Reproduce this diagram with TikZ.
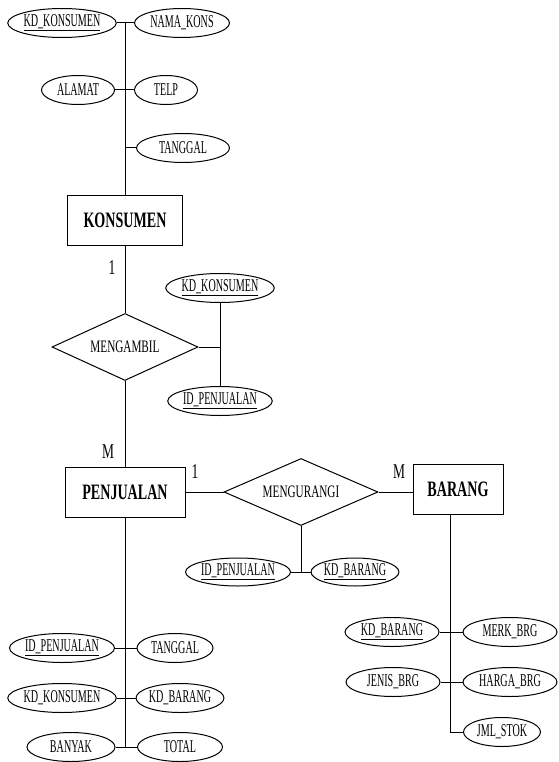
\documentclass[tikz,border=0pt]{standalone}
\usepackage{fontspec}
\setmainfont{Liberation Serif}
\newfontfamily\attrf[FakeStretch=0.56]{Liberation Serif}
\newfontfamily\entf[FakeStretch=0.64]{Liberation Serif}
\newfontfamily\relf[FakeStretch=0.64]{Liberation Serif}
\usetikzlibrary{shapes.geometric}
\tikzset{
  attr/.style={draw, ellipse, line width=1pt, inner sep=0pt, minimum height=29pt,
    font=\attrf\fontsize{18}{20}\selectfont},
  entity/.style={draw, rectangle, line width=1pt, inner sep=0pt, minimum height=50pt,
    font=\entf\bfseries\fontsize{22}{24}\selectfont},
  rel/.style={draw, diamond, aspect=2.2, line width=1pt, inner sep=0pt,
    font=\relf\fontsize{17.5}{20}\selectfont},
  card/.style={inner sep=0pt, font=\entf\fontsize{21}{23}\selectfont},
  conn/.style={line width=1pt}
}
\begin{document}
\begin{tikzpicture}[x=1pt,y=-1pt]
\useasboundingbox (0,0) rectangle (558,762);
% KONSUMEN attributes
\node[attr, minimum width=105pt] (k1) at (62,23) {\underline{KD\_KONSUMEN}};
\node[attr, minimum width=95pt] (k2) at (182,23) {NAMA\_KONS};
\node[attr, minimum width=73pt] (k3) at (78,90) {ALAMAT};
\node[attr, minimum width=63pt] (k4) at (166,90) {TELP};
\node[attr, minimum width=93pt] (k5) at (183,148) {TANGGAL};
\node[entity, minimum width=115pt] (kons) at (125,220) {KONSUMEN};
\coordinate (ktop) at (125,23);
% MENGAMBIL
\node[rel, minimum width=146pt, minimum height=67pt] (mengambil) at (125,347) {MENGAMBIL};
\node[attr, minimum width=106pt] (a1) at (220,288) {\underline{KD\_KONSUMEN}};
\node[attr, minimum width=97pt] (a2) at (220,401) {\underline{ID\_PENJUALAN}};
% PENJUALAN
\node[entity, minimum width=120pt] (penj) at (125,492) {PENJUALAN};
\node[rel, minimum width=154pt, minimum height=67pt] (mengurangi) at (301,492) {MENGURANGI};
\node[entity, minimum width=90pt] (barang) at (458,489) {BARANG};
\node[attr, minimum width=105pt, minimum height=28pt] (r1) at (238,572) {\underline{ID\_PENJUALAN}};
\node[attr, minimum width=83pt, minimum height=28pt] (r2) at (355,572) {\underline{KD\_BARANG}};
% PENJUALAN attributes
\node[attr, minimum width=105pt] (p1) at (62,648) {\underline{ID\_PENJUALAN}};
\node[attr, minimum width=76pt] (p2) at (175,648) {TANGGAL};
\node[attr, minimum width=105pt] (p3) at (62,698) {KD\_KONSUMEN};
\node[attr, minimum width=84pt] (p4) at (180,698) {KD\_BARANG};
\node[attr, minimum width=88pt] (p5) at (71,747) {BANYAK};
\node[attr, minimum width=85pt] (p6) at (180,747) {TOTAL};
% BARANG attributes
\node[attr, minimum width=94pt] (b1) at (392,632) {\underline{KD\_BARANG}};
\node[attr, minimum width=94pt] (b2) at (510,632) {MERK\_BRG};
\node[attr, minimum width=94pt] (b3) at (393,682) {JENIS\_BRG};
\node[attr, minimum width=94pt] (b4) at (510,682) {HARGA\_BRG};
\node[attr, minimum width=77pt] (b5) at (502,732) {JML\_STOK};
\coordinate (bs) at (450,514);
\coordinate (bc) at (450,732);
% cardinalities
\node[card] (c1) at (112,268) {1};
\node[card] (c2) at (108,452) {M};
\node[card] (c3) at (195,472) {1};
\node[card] (c4) at (399,472) {M};
% connectors
\draw[conn] (ktop) -- (kons.north);
\draw[conn] (k1.east) -- (k2.west);
\draw[conn] (k3.east) -- (k4.west);
\draw[conn] (ktop |- k5) -- (k5.west);
\draw[conn] (kons.south) -- (mengambil.north);
\draw[conn] (mengambil.east) -- (mengambil.east -| a1.south);
\draw[conn] (a1.south) -- (a2.north);
\draw[conn] (mengambil.south) -- (penj.north);
\draw[conn] (penj.east) -- (mengurangi.west);
\draw[conn] (mengurangi.east) -- (mengurangi.east -| barang.west);
\draw[conn] (mengurangi.south) -- (mengurangi.south |- r1);
\draw[conn] (r1.east) -- (r2.west);
\draw[conn] (penj.south) -- (penj.south |- p5);
\draw[conn] (p1.east) -- (p2.west);
\draw[conn] (p3.east) -- (p4.west);
\draw[conn] (p5.east) -- (p6.west);
\draw[conn] (bs) -- (bc) -- (b5.west);
\draw[conn] (b1.east) -- (b2.west);
\draw[conn] (b3.east) -- (b4.west);
\end{tikzpicture}
\end{document}
